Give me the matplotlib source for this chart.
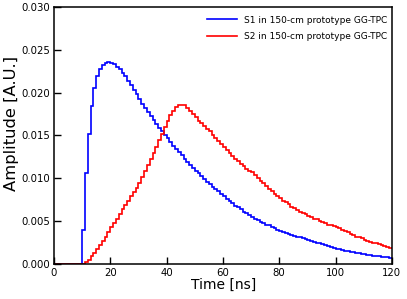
import numpy as np
import matplotlib
matplotlib.use("Agg")
import matplotlib.pyplot as plt

# bin edges: 1 ns bins from 0 to 120 ns
edges = np.arange(0, 121, 1)

# S1 amplitude per 1-ns bin (bins 0..119)
s1 = [0.0]*10 + [
    0.0040, 0.0106, 0.0152, 0.0184, 0.0205, 0.0219, 0.0227, 0.0232, 0.0235, 0.0236,  # 10-19
    0.0235, 0.0233, 0.0230, 0.0227, 0.0223, 0.0219, 0.0214, 0.0209, 0.0203, 0.0198,  # 20-29
    0.0192, 0.0187, 0.0182, 0.0177, 0.0173, 0.0168, 0.0163, 0.0159, 0.0155, 0.0151,  # 30-39
    0.0147, 0.0142, 0.0138, 0.0134, 0.0131, 0.0127, 0.0123, 0.0119, 0.0116, 0.0112,  # 40-49
    0.0109, 0.0106, 0.0103, 0.0099, 0.0096, 0.0093, 0.0090, 0.0087, 0.0085, 0.0082,  # 50-59
    0.0079, 0.0076, 0.0073, 0.0071, 0.0068, 0.0066, 0.0064, 0.0061, 0.0059, 0.0057,  # 60-69
    0.0055, 0.0053, 0.0051, 0.0049, 0.0048, 0.0046, 0.0045, 0.0043, 0.0042, 0.0040,  # 70-79
    0.0039, 0.0037, 0.0036, 0.0035, 0.0034, 0.0033, 0.0032, 0.0031, 0.0030, 0.0029,  # 80-89
    0.0028, 0.0027, 0.0026, 0.0025, 0.0024, 0.0023, 0.0022, 0.0021, 0.0020, 0.0019,  # 90-99
    0.0018, 0.0017, 0.00163, 0.00156, 0.00149, 0.00142, 0.00136, 0.0013, 0.00124, 0.00118,  # 100-109
    0.00113, 0.00108, 0.00103, 0.00098, 0.00094, 0.0009, 0.00086, 0.00082, 0.00078, 0.00075,  # 110-119
]

# S2 amplitude per 1-ns bin (bins 0..119)
s2 = [0.0]*11 + [
    0.0002, 0.0005, 0.0009, 0.0013, 0.0017, 0.0022, 0.0027, 0.0032, 0.0037,  # 11-19
    0.0043, 0.0048, 0.0053, 0.0058, 0.0064, 0.0069, 0.0074, 0.0079, 0.0084, 0.0089,  # 20-29
    0.0095, 0.0101, 0.0108, 0.0115, 0.0122, 0.0129, 0.0137, 0.0145, 0.0152, 0.0160,  # 30-39
    0.0167, 0.0174, 0.0179, 0.0183, 0.0186, 0.0186, 0.0185, 0.0182, 0.0179, 0.0175,  # 40-49
    0.0171, 0.0167, 0.0164, 0.0161, 0.0158, 0.0155, 0.0151, 0.0147, 0.0144, 0.0140,  # 50-59
    0.0137, 0.0133, 0.0130, 0.0126, 0.0123, 0.0120, 0.0117, 0.0114, 0.0111, 0.0109,  # 60-69
    0.0107, 0.0104, 0.0100, 0.0097, 0.0094, 0.0091, 0.0088, 0.0085, 0.0082, 0.0079,  # 70-79
    0.0077, 0.0074, 0.0072, 0.0070, 0.0067, 0.0065, 0.0063, 0.0061, 0.0059, 0.0058,  # 80-89
    0.0056, 0.0055, 0.0053, 0.0052, 0.0050, 0.0049, 0.0048, 0.0046, 0.0045, 0.0044,  # 90-99
    0.0043, 0.0042, 0.0040, 0.0038, 0.0037, 0.0035, 0.0034, 0.0032, 0.0031, 0.0030,  # 100-109
    0.0028, 0.0027, 0.0026, 0.0025, 0.0024, 0.0023, 0.0022, 0.0021, 0.0020, 0.0019,  # 110-119
]

labels = ["S1 in 150-cm prototype GG-TPC", "S2 in 150-cm prototype GG-TPC"]
colors = ["#0000ff", "#ff0000"]

xticks = [0, 20, 40, 60, 80, 100, 120]
yticks = [0.000, 0.005, 0.010, 0.015, 0.020, 0.025, 0.030]

fig = plt.figure(figsize=(4.07, 2.99), dpi=100)
ax = fig.add_axes([0.1327, 0.117, 0.830, 0.860])

ax.stairs(s1, edges, color=colors[0], linewidth=1.2, label=labels[0], baseline=None)
ax.stairs(s2, edges, color=colors[1], linewidth=1.2, label=labels[1], baseline=None)

ax.set_xlim(0, 120)
ax.set_ylim(0, 0.030)
ax.set_xticks(xticks)
ax.set_yticks(yticks)
ax.set_yticklabels([f"{v:.3f}" for v in yticks])
ax.tick_params(direction="in", length=5, width=1, labelsize=7.3, pad=3)
for sp in ax.spines.values():
    sp.set_linewidth(1.1)

ax.set_xlabel("Time [ns]", fontsize=10)
ax.xaxis.set_label_coords(0.501, -0.052)
ax.set_ylabel("Amplitude [A.U.]", fontsize=11.8, va="center")
ax.yaxis.set_label_coords(-0.127, 0.545)

leg = ax.legend(loc="upper right", bbox_to_anchor=(1.0, 0.984), frameon=False,
                fontsize=6.5, handlelength=3.4, handletextpad=0.75,
                borderaxespad=0.0, borderpad=0.5, labelspacing=0.85)

fig.savefig("out.png", dpi=100)
